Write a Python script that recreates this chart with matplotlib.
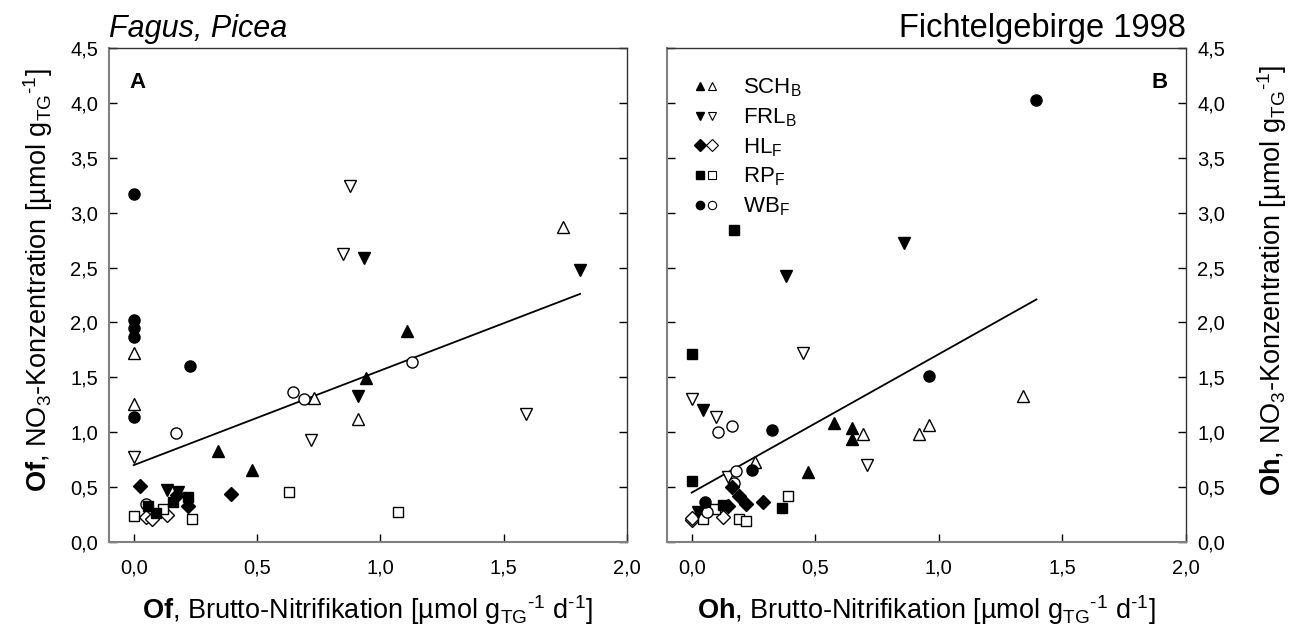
import matplotlib
matplotlib.use("Agg")
import matplotlib.pyplot as plt
from matplotlib.legend_handler import HandlerTuple
from matplotlib.lines import Line2D

plt.rcParams['font.family'] = ['Liberation Sans', 'DejaVu Sans']
plt.rcParams['mathtext.fontset'] = 'custom'
plt.rcParams['mathtext.rm'] = 'Liberation Sans'
plt.rcParams['mathtext.it'] = 'Liberation Sans:italic'
plt.rcParams['mathtext.bf'] = 'Liberation Sans:bold'

# ---------------- Panel A (Of) data ----------------
A_SCH_f_x = [0.34, 0.48, 0.94, 1.11]
A_SCH_f_y = [0.83, 0.66, 1.49, 1.92]
A_SCH_o_x = [0.0, 0.0, 0.73, 0.91, 1.74]
A_SCH_o_y = [1.72, 1.26, 1.31, 1.12, 2.87]
A_FRL_f_x = [0.135, 0.18, 0.91, 0.935, 1.81]
A_FRL_f_y = [0.47, 0.46, 1.33, 2.59, 2.48]
A_FRL_o_x = [0.0, 0.72, 0.85, 0.875, 1.59]
A_FRL_o_y = [0.77, 0.93, 2.62, 3.24, 1.17]
A_HL_f_x = [0.025, 0.175, 0.22, 0.395]
A_HL_f_y = [0.51, 0.43, 0.33, 0.44]
A_HL_o_x = [0.05, 0.075, 0.135]
A_HL_o_y = [0.23, 0.21, 0.25]
A_RP_f_x = [0.06, 0.09, 0.16, 0.22]
A_RP_f_y = [0.33, 0.26, 0.36, 0.41]
A_RP_o_x = [0.0, 0.12, 0.235, 0.63, 1.07]
A_RP_o_y = [0.24, 0.30, 0.21, 0.46, 0.27]
A_WB_f_x = [0.0, 0.0, 0.0, 0.0, 0.0, 0.23]
A_WB_f_y = [3.17, 2.02, 1.95, 1.87, 1.14, 1.60]
A_WB_o_x = [0.05, 0.17, 0.645, 0.69, 1.13]
A_WB_o_y = [0.35, 0.99, 1.37, 1.30, 1.64]
A_fit_x = [0.0, 1.81]
A_fit_y = [0.70, 2.26]

# ---------------- Panel B (Oh) data ----------------
B_SCH_f_x = [0.47, 0.575, 0.65, 0.65]
B_SCH_f_y = [0.64, 1.08, 1.04, 0.94]
B_SCH_o_x = [0.255, 0.695, 0.92, 0.96, 1.34]
B_SCH_o_y = [0.73, 0.98, 0.98, 1.07, 1.33]
B_FRL_f_x = [0.025, 0.045, 0.38, 0.86]
B_FRL_f_y = [0.27, 1.20, 2.42, 2.72]
B_FRL_o_x = [0.0, 0.10, 0.145, 0.45, 0.71]
B_FRL_o_y = [1.30, 1.14, 0.59, 1.72, 0.70]
B_HL_f_x = [0.145, 0.165, 0.19, 0.22, 0.29]
B_HL_f_y = [0.33, 0.50, 0.42, 0.35, 0.36]
B_HL_o_x = [0.0, 0.0, 0.125]
B_HL_o_y = [0.20, 0.22, 0.23]
B_RP_f_x = [0.0, 0.0, 0.125, 0.17, 0.365]
B_RP_f_y = [1.71, 0.56, 0.34, 2.84, 0.31]
B_RP_o_x = [0.045, 0.095, 0.19, 0.22, 0.39]
B_RP_o_y = [0.21, 0.30, 0.21, 0.19, 0.42]
B_WB_f_x = [0.055, 0.245, 0.325, 0.96, 1.395]
B_WB_f_y = [0.36, 0.66, 1.02, 1.51, 4.03]
B_WB_o_x = [0.06, 0.105, 0.165, 0.17, 0.18]
B_WB_o_y = [0.27, 1.00, 1.06, 0.54, 0.65]
B_fit_x = [0.0, 1.395]
B_fit_y = [0.45, 2.21]

legend_labels = [r'SCH$_\mathregular{B}$', r'FRL$_\mathregular{B}$', r'HL$_\mathregular{F}$',
                 r'RP$_\mathregular{F}$', r'WB$_\mathregular{F}$']
xticks = [0.0, 0.5, 1.0, 1.5, 2.0]
yticks = [0.0, 0.5, 1.0, 1.5, 2.0, 2.5, 3.0, 3.5, 4.0, 4.5]

markers = ['^', 'v', 'D', 's', 'o']
msizes = [8.5, 8.5, 7.5, 7.0, 8.0]

TICKFS = 14.5
LABELFS = 19.5
unit_x = r' [µmol g$_\mathregular{TG}$$^{\mathregular{‐1}}$ d$^{\mathregular{‐1}}$]'
unit_y = r' [µmol g$_\mathregular{TG}$$^{\mathregular{‐1}}$]'

fig = plt.figure(figsize=(12.93, 6.33), dpi=100)
axA = fig.add_axes([109/1293, 1-542/633, 518/1293, 494/633])
axB = fig.add_axes([667/1293, 1-542/633, 519/1293, 494/633])

def fmt(v):
    return f"{v:.1f}".replace('.', ',')

def draw(ax, series, fit):
    for i, (fx, fy, ox, oy) in enumerate(series):
        ax.plot(ox, oy, linestyle='none', marker=markers[i], ms=msizes[i],
                mfc='white', mec='black', mew=1.0, zorder=3)
        ax.plot(fx, fy, linestyle='none', marker=markers[i], ms=msizes[i],
                mfc='black', mec='black', mew=1.0, zorder=4)
    ax.plot(fit[0], fit[1], color='black', lw=1.3, zorder=2)
    ax.set_xlim(-0.1, 2.0)
    ax.set_ylim(0, 4.5)
    ax.set_xticks(xticks)
    ax.set_xticklabels([fmt(v) for v in xticks], fontsize=TICKFS)
    ax.set_yticks(yticks)
    ax.tick_params(axis='both', direction='in', length=6, width=1, pad=8)
    ax.tick_params(axis='x', pad=12)
    for s in ['left', 'bottom']:
        ax.spines[s].set_color('#808080')
        ax.spines[s].set_linewidth(1.5)
    for s in ['top', 'right']:
        ax.spines[s].set_color('#333333')
        ax.spines[s].set_linewidth(1.0)

draw(axA, [(A_SCH_f_x, A_SCH_f_y, A_SCH_o_x, A_SCH_o_y),
           (A_FRL_f_x, A_FRL_f_y, A_FRL_o_x, A_FRL_o_y),
           (A_HL_f_x, A_HL_f_y, A_HL_o_x, A_HL_o_y),
           (A_RP_f_x, A_RP_f_y, A_RP_o_x, A_RP_o_y),
           (A_WB_f_x, A_WB_f_y, A_WB_o_x, A_WB_o_y)], (A_fit_x, A_fit_y))
draw(axB, [(B_SCH_f_x, B_SCH_f_y, B_SCH_o_x, B_SCH_o_y),
           (B_FRL_f_x, B_FRL_f_y, B_FRL_o_x, B_FRL_o_y),
           (B_HL_f_x, B_HL_f_y, B_HL_o_x, B_HL_o_y),
           (B_RP_f_x, B_RP_f_y, B_RP_o_x, B_RP_o_y),
           (B_WB_f_x, B_WB_f_y, B_WB_o_x, B_WB_o_y)], (B_fit_x, B_fit_y))

axA.tick_params(axis='y', left=True, right=True, labelleft=True, labelright=False)
axA.set_yticklabels([fmt(v) for v in yticks], fontsize=TICKFS)
axB.tick_params(axis='y', left=True, right=True, labelleft=False, labelright=True)
axB.set_yticklabels([fmt(v) for v in yticks], fontsize=TICKFS)

axA.set_xlabel(r'$\mathbf{Of}$, Brutto-Nitrifikation' + unit_x, fontsize=LABELFS, labelpad=11)
axB.set_xlabel(r'$\mathbf{Oh}$, Brutto-Nitrifikation' + unit_x, fontsize=LABELFS, labelpad=11)
axA.set_ylabel(r'$\mathbf{Of}$, NO$_\mathregular{3}$-Konzentration' + unit_y, fontsize=LABELFS, labelpad=11)
axA.yaxis.label.set_y(0.53)
axB.yaxis.set_label_position('right')
axB.set_ylabel(r'$\mathbf{Oh}$, NO$_\mathregular{3}$-Konzentration' + unit_y, fontsize=LABELFS,
               labelpad=22, rotation=90)
axB.yaxis.label.set_y(0.53)

axA.text(0.04, 0.93, 'A', transform=axA.transAxes, fontsize=16, fontweight='bold', va='center')
axB.text(0.965, 0.93, 'B', transform=axB.transAxes, fontsize=16, fontweight='bold', va='center', ha='right')
axA.text(0.0, 1.022, 'Fagus, Picea', transform=axA.transAxes, fontsize=22, fontstyle='italic',
         ha='left', va='baseline')
axB.text(1.0, 1.022, 'Fichtelgebirge 1998', transform=axB.transAxes, fontsize=23.5,
         ha='right', va='baseline')

handles = []
for i in range(5):
    h1 = Line2D([], [], linestyle='none', marker=markers[i], ms=6, mfc='black', mec='black')
    h2 = Line2D([], [], linestyle='none', marker=markers[i], ms=6, mfc='white', mec='black', mew=0.8)
    handles.append((h1, h2))
axB.legend(handles, legend_labels, handler_map={tuple: HandlerTuple(ndivide=None, pad=0.0)},
           loc='upper left', bbox_to_anchor=(0.035, 0.96), frameon=False, fontsize=16,
           handlelength=1.1, handletextpad=1.1, labelspacing=0.32, borderaxespad=0)

fig.savefig('out.png', dpi=100)
